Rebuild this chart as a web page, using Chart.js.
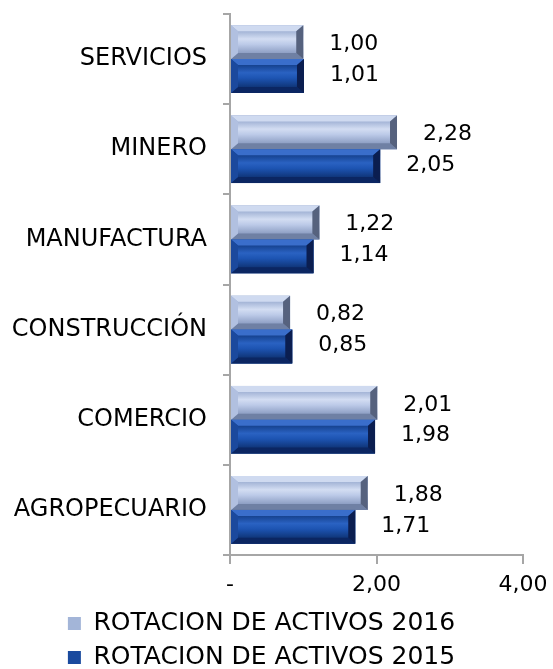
<!DOCTYPE html>
<html>
<head>
<meta charset="utf-8">
<script src="https://cdn.jsdelivr.net/npm/chart.js@4/dist/chart.umd.min.js"></script>
<style>
  body { margin: 0; background: #fff; }
  #wrap { width: 553px; height: 669px; }
</style>
</head>
<body>
<div id="wrap"><canvas id="chart"></canvas></div>
<script>
const categories = ["SERVICIOS", "MINERO", "MANUFACTURA", "CONSTRUCCIÓN", "COMERCIO", "AGROPECUARIO"];
const values2016 = [1.00, 2.28, 1.22, 0.82, 2.01, 1.88];
const values2015 = [1.01, 2.05, 1.14, 0.85, 1.98, 1.71];
const seriesNames = ["ROTACION DE ACTIVOS 2016", "ROTACION DE ACTIVOS 2015"];
const xTicks = [0, 2, 4];

const FONT = "'DejaVu Sans', Verdana, sans-serif";

function fmt(v) {
  return v.toFixed(2).replace(".", ",");
}

// bevel palettes for each series
const bevels = [
  { face: ["#a3b4d6", "#d3ddf2", "#bccae8", "#8e9fc4"], top: "#cfdaf0", bottom: "#6f80a4", left: "#b1c0e0", right: "#56627e" },
  { face: ["#16428f", "#2a62c2", "#1d54b2", "#10367a"], top: "#3a6ecb", bottom: "#0b2662", left: "#1b499d", right: "#0b1e50" }
];

const bevelPlugin = {
  id: "bevel",
  afterDatasetsDraw(chart) {
    const ctx = chart.ctx;
    chart.data.datasets.forEach((ds, i) => {
      const meta = chart.getDatasetMeta(i);
      const p = bevels[i];
      meta.data.forEach((bar) => {
        const { x, y, base, height } = bar.getProps(["x", "y", "base", "height"], true);
        const l = base, r = x, t = y - height / 2, b = y + height / 2;
        const bx = Math.min(7, (r - l) / 3), by = 6;
        ctx.save();
        const g = ctx.createLinearGradient(0, t + by, 0, b - by);
        g.addColorStop(0, p.face[0]);
        g.addColorStop(0.35, p.face[1]);
        g.addColorStop(0.6, p.face[2]);
        g.addColorStop(1, p.face[3]);
        ctx.fillStyle = g;
        ctx.fillRect(l, t, r - l, b - t);
        const poly = (pts, c) => {
          ctx.beginPath();
          ctx.moveTo(pts[0][0], pts[0][1]);
          for (let k = 1; k < pts.length; k++) ctx.lineTo(pts[k][0], pts[k][1]);
          ctx.closePath();
          ctx.fillStyle = c;
          ctx.fill();
        };
        poly([[l, t], [r, t], [r - bx, t + by], [l + bx, t + by]], p.top);
        poly([[l, b], [r, b], [r - bx, b - by], [l + bx, b - by]], p.bottom);
        poly([[l, t], [l + bx, t + by], [l + bx, b - by], [l, b]], p.left);
        poly([[r, t], [r - bx, t + by], [r - bx, b - by], [r, b]], p.right);
        ctx.restore();
      });
    });
  }
};

const labelPlugin = {
  id: "valueLabels",
  afterDatasetsDraw(chart) {
    const ctx = chart.ctx;
    ctx.save();
    ctx.font = "22px " + FONT;
    ctx.fillStyle = "#000";
    ctx.textAlign = "left";
    ctx.textBaseline = "middle";
    chart.data.datasets.forEach((ds, i) => {
      const meta = chart.getDatasetMeta(i);
      meta.data.forEach((bar, j) => {
        const dy = i === 0 ? 2 : -1;
        ctx.fillText(fmt(ds.data[j]), bar.x + 26, bar.y + dy);
      });
    });
    ctx.restore();
  }
};

new Chart(document.getElementById("chart"), {
  type: "bar",
  data: {
    labels: categories,
    datasets: [
      { label: seriesNames[0], data: values2016, backgroundColor: "#a3b5d8" },
      { label: seriesNames[1], data: values2015, backgroundColor: "#1a4a9e" }
    ]
  },
  options: {
    indexAxis: "y",
    responsive: true,
    maintainAspectRatio: false,
    animation: false,
    layout: { padding: { top: 14, right: 30, left: 0, bottom: -11 } },
    datasets: { bar: { categoryPercentage: 0.75, barPercentage: 1 } },
    scales: {
      x: {
        min: 0,
        max: 4,
        afterBuildTicks: (scale) => { scale.ticks = xTicks.map((v) => ({ value: v })); },
        afterFit: (scale) => { scale.height = 47; scale.paddingLeft = 0; scale.paddingRight = 0; },
        ticks: {
          color: "#000",
          font: { family: FONT, size: 22 },
          padding: 8,
          callback: (v) => (v === 0 ? "-" : fmt(v))
        },
        grid: { drawOnChartArea: false, tickLength: 9, color: "#a6a6a6", lineWidth: 2 },
        border: { color: "#a6a6a6", width: 2 }
      },
      y: {
        afterFit: (scale) => { scale.width = 230; scale.paddingTop = 0; scale.paddingBottom = 0; },
        ticks: {
          color: "#000",
          font: { family: FONT, size: 24 },
          padding: 16
        },
        grid: { drawOnChartArea: false, tickLength: 7, color: "#a6a6a6", lineWidth: 2, offset: true },
        border: { color: "#a6a6a6", width: 2 }
      }
    },
    plugins: {
      tooltip: { enabled: false },
      legend: {
        position: "bottom",
        labels: {
          color: "#000",
          font: { family: FONT, size: 25 },
          boxWidth: 13,
          boxHeight: 13,
          padding: 9
        }
      }
    }
  },
  plugins: [bevelPlugin, labelPlugin]
});
</script>
</body>
</html>
